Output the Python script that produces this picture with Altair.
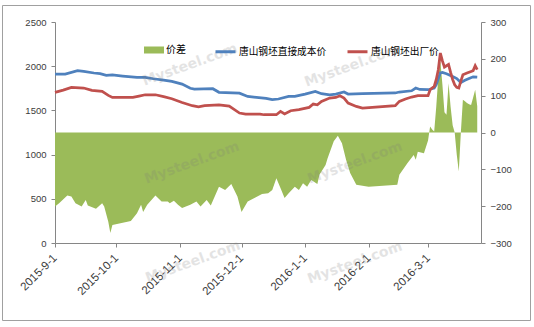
import altair as alt
import pandas as pd

# ---------------- data ----------------
series_names = ["价差", "唐山钢坯直接成本价", "唐山钢坯出厂价"]

blue_dates = ["2015-09-01", "2015-09-06", "2015-09-12", "2015-09-15", "2015-09-20", "2015-09-23",
              "2015-09-26", "2015-09-29", "2015-10-04", "2015-10-11", "2015-10-15", "2015-10-19",
              "2015-10-24", "2015-10-28", "2015-11-02", "2015-11-06", "2015-11-08", "2015-11-17",
              "2015-11-20", "2015-11-30", "2015-12-04", "2015-12-13", "2015-12-16", "2015-12-19",
              "2015-12-24", "2015-12-27", "2016-01-01", "2016-01-06", "2016-01-09", "2016-01-13",
              "2016-01-16", "2016-01-20", "2016-01-22", "2016-01-29", "2016-02-14", "2016-02-16",
              "2016-02-22", "2016-02-24", "2016-02-26", "2016-03-01", "2016-03-04", "2016-03-05",
              "2016-03-07", "2016-03-08", "2016-03-10", "2016-03-13", "2016-03-15", "2016-03-17",
              "2016-03-19", "2016-03-21", "2016-03-23", "2016-03-25"]
blue_vals = [1911, 1911, 1949, 1941, 1923, 1916,
             1896, 1903, 1889, 1873, 1873, 1858,
             1843, 1828, 1798, 1750, 1742, 1745,
             1705, 1695, 1658, 1635, 1621, 1629,
             1658, 1658, 1685, 1715, 1689, 1677,
             1685, 1708, 1685, 1690, 1697, 1708,
             1722, 1753, 1737, 1734, 1753, 1790,
             1925, 1930, 1915, 1885, 1860, 1816,
             1840, 1860, 1880, 1877]

red_dates = ["2015-09-01", "2015-09-05", "2015-09-09", "2015-09-15", "2015-09-19", "2015-09-24",
             "2015-09-27", "2015-09-29", "2015-10-09", "2015-10-12", "2015-10-15", "2015-10-20",
             "2015-10-24", "2015-10-28", "2015-11-02", "2015-11-07", "2015-11-10", "2015-11-13",
             "2015-11-20", "2015-11-25", "2015-11-30", "2015-12-03", "2015-12-10", "2015-12-12",
             "2015-12-18", "2015-12-20", "2015-12-22", "2015-12-25", "2015-12-29", "2016-01-03",
             "2016-01-05", "2016-01-07", "2016-01-09", "2016-01-13", "2016-01-16", "2016-01-18",
             "2016-01-20", "2016-01-22", "2016-01-26", "2016-01-29", "2016-02-14", "2016-02-16",
             "2016-02-19", "2016-02-22", "2016-02-25", "2016-03-01", "2016-03-02", "2016-03-04",
             "2016-03-05", "2016-03-06", "2016-03-07", "2016-03-08", "2016-03-09", "2016-03-10",
             "2016-03-11", "2016-03-12", "2016-03-13", "2016-03-14", "2016-03-15", "2016-03-16",
             "2016-03-17", "2016-03-18", "2016-03-20", "2016-03-22", "2016-03-23", "2016-03-24",
             "2016-03-25"]
red_vals = [1704, 1730, 1760, 1753, 1726, 1715,
            1670, 1647, 1647, 1662, 1677, 1677,
            1655, 1632, 1590, 1553, 1540, 1553,
            1562, 1548, 1470, 1459, 1459, 1451,
            1451, 1489, 1459, 1496, 1508, 1534,
            1572, 1564, 1602, 1640, 1647, 1666,
            1640, 1583, 1545, 1527, 1553, 1602,
            1629, 1651, 1666, 1666, 1734, 1771,
            1850, 1960, 2149, 2060, 1990, 2005,
            2020, 1930, 1850, 1790, 1760, 1753,
            1830, 1903, 1923, 1941, 1950, 2005,
            1960]

diff_dates = ["2015-09-01", "2015-09-03", "2015-09-07", "2015-09-09", "2015-09-11", "2015-09-14",
              "2015-09-16", "2015-09-17", "2015-09-21", "2015-09-24", "2015-09-25", "2015-09-27",
              "2015-09-28", "2015-09-29", "2015-10-08", "2015-10-11", "2015-10-13", "2015-10-14",
              "2015-10-16", "2015-10-20", "2015-10-23", "2015-10-26", "2015-10-27", "2015-10-29",
              "2015-10-31", "2015-11-02", "2015-11-06", "2015-11-09", "2015-11-11", "2015-11-14",
              "2015-11-16", "2015-11-20", "2015-11-23", "2015-11-26", "2015-11-29", "2015-12-01",
              "2015-12-04", "2015-12-08", "2015-12-11", "2015-12-14", "2015-12-16", "2015-12-18",
              "2015-12-20", "2015-12-22", "2015-12-24", "2015-12-27", "2015-12-29", "2015-12-31",
              "2016-01-02", "2016-01-04", "2016-01-07", "2016-01-08", "2016-01-11", "2016-01-12",
              "2016-01-15", "2016-01-17", "2016-01-19", "2016-01-21", "2016-01-23", "2016-01-26",
              "2016-02-01", "2016-02-15", "2016-02-16", "2016-02-20", "2016-02-23", "2016-02-24",
              "2016-02-25", "2016-02-28", "2016-03-01", "2016-03-02", "2016-03-03", "2016-03-04",
              "2016-03-05", "2016-03-06", "2016-03-07", "2016-03-08", "2016-03-09", "2016-03-10",
              "2016-03-11", "2016-03-12", "2016-03-13", "2016-03-14", "2016-03-15", "2016-03-16",
              "2016-03-17", "2016-03-18", "2016-03-19", "2016-03-20", "2016-03-21", "2016-03-22",
              "2016-03-23", "2016-03-24", "2016-03-25"]
diff_vals = [-201, -192, -171, -174, -192, -201,
             -183, -198, -207, -192, -201, -242,
             -273, -251, -240, -219, -196, -216,
             -196, -171, -187, -187, -192, -185,
             -196, -205, -196, -187, -201, -183,
             -198, -147, -156, -140, -174, -216,
             -187, -176, -167, -165, -156, -124,
             -151, -178, -165, -147, -156, -138,
             -147, -129, -140, -115, -88, -70,
             -24, -9, -29, -74, -110, -142,
             -147, -142, -115, -83, -61, -74,
             -52, -56, -22, 16, 8, 3,
             70, 150, 195, 130, 55, 48,
             134, 70, 20, 0, -60, -106,
             0, 89, 85, 80, 77, 75,
             95, 116, 71]

x_tick_dates = [(2015, 9), (2015, 10), (2015, 11), (2015, 12), (2016, 1), (2016, 2), (2016, 3)]
left_ticks = [0, 500, 1000, 1500, 2000, 2500]
right_ticks = [-300, -200, -100, 0, 100, 200, 300]
watermark_text = "Mysteel.com"

# ---------------- tables ----------------
lines_df = pd.concat([
    pd.DataFrame({"date": blue_dates, "value": blue_vals, "series": series_names[1]}),
    pd.DataFrame({"date": red_dates, "value": red_vals, "series": series_names[2]}),
], ignore_index=True)
diff_df = pd.DataFrame({"date": diff_dates, "value": diff_vals, "series": series_names[0]})
dummy = pd.DataFrame({"k": [0]})

AXIS_COLOR = "#868686"
LABEL_COLOR = "#3c3c3c"
NUM_FONT = "Liberation Sans"
CJK_FONT = "Noto Sans CJK SC"

x_enc = alt.X(
    "date:T",
    title=None,
    scale=alt.Scale(type="utc", domain=[
        alt.DateTime(year=2015, month=9, date=1, utc=True),
        alt.DateTime(year=2016, month=3, date=26, hours=20, utc=True),
    ]),
    axis=alt.Axis(
        values=[alt.DateTime(year=y, month=m, date=1, utc=True) for y, m in x_tick_dates],
        labelExpr="utcFormat(datum.value, '%Y-%-m-%-d')",
        labelAngle=-45, labelAlign="right", labelBaseline="middle",
        labelFont=NUM_FONT, labelFontSize=11.5, labelColor=LABEL_COLOR,
        labelPadding=9, tickSize=4, tickColor=AXIS_COLOR, domainColor=AXIS_COLOR,
        grid=False, labelOverlap=False, labelBound=False, labelFlush=False,
    ),
)

area = alt.Chart(diff_df).mark_area(interpolate="linear", opacity=1).encode(
    x=x_enc,
    y=alt.Y("value:Q", title=None,
            scale=alt.Scale(domain=[-300, 300], nice=False),
            axis=alt.Axis(orient="right", values=right_ticks, grid=False, format="d",
                          labelFont=NUM_FONT, labelFontSize=9.5, labelColor=LABEL_COLOR,
                          labelPadding=5, tickSize=4, tickColor=AXIS_COLOR,
                          domainColor=AXIS_COLOR)),
    fill=alt.Fill("series:N",
                  scale=alt.Scale(domain=[series_names[0]], range=["#9BBB59"]),
                  legend=alt.Legend(orient="none", legendX=89, legendY=18, title=None,
                                    symbolType="M-1,-0.35H1V0.35H-1Z", symbolSize=400,
                                    symbolStrokeWidth=0, symbolOpacity=1,
                                    labelFont=CJK_FONT, labelFontSize=10, labelColor="#000000",
                                    labelOffset=2, padding=0)),
)

lines = alt.Chart(lines_df).mark_line(strokeWidth=2.75, interpolate="linear").encode(
    x=x_enc,
    y=alt.Y("value:Q", title=None,
            scale=alt.Scale(domain=[0, 2500], nice=False),
            axis=alt.Axis(orient="left", values=left_ticks, grid=False, format="d",
                          labelFont=NUM_FONT, labelFontSize=9.5, labelColor=LABEL_COLOR,
                          labelPadding=5, tickSize=4, tickColor=AXIS_COLOR,
                          domainColor=AXIS_COLOR)),
    stroke=alt.Stroke("series:N",
                      scale=alt.Scale(domain=series_names[1:], range=["#4F81BD", "#C0504D"]),
                      legend=alt.Legend(orient="none", legendX=159, legendY=18, title=None,
                                        direction="horizontal", symbolType="stroke",
                                        symbolSize=400, symbolStrokeWidth=3,
                                        columnPadding=14, labelOffset=2,
                                        labelFont=CJK_FONT, labelFontSize=9.7,
                                        labelColor="#000000", padding=0)),
)

border = alt.Chart(dummy).mark_rect(filled=False, stroke="#a0a0a0", strokeWidth=1).encode(
    x=alt.value(-52.5), x2=alt.value(475.5), y=alt.value(-16.5), y2=alt.value(298.5)
)

wm_layers = []
for wx, wy in [(135, 43), (297, 44), (137, 141), (300, 141), (138, 240), (300, 241)]:
    wm_layers.append(
        alt.Chart(dummy).mark_text(text=watermark_text, font="DejaVu Sans", fontWeight="bold",
                                   fontSize=14, angle=340, color="#7a7a7a", opacity=0.2,
                                   align="center", baseline="middle")
        .encode(x=alt.value(wx), y=alt.value(wy))
    )

chart = alt.layer(border, area, lines, *wm_layers).resolve_scale(
    y="independent", fill="independent", stroke="independent"
).properties(
    width=426, height=221,
    autosize=alt.AutoSizeParams(type="none"),
    padding={"left": 55, "top": 22, "right": 53, "bottom": 84},
    background="white",
).configure_view(stroke=None)

chart.save("out.html", embed_options={"renderer": "svg", "actions": False})
